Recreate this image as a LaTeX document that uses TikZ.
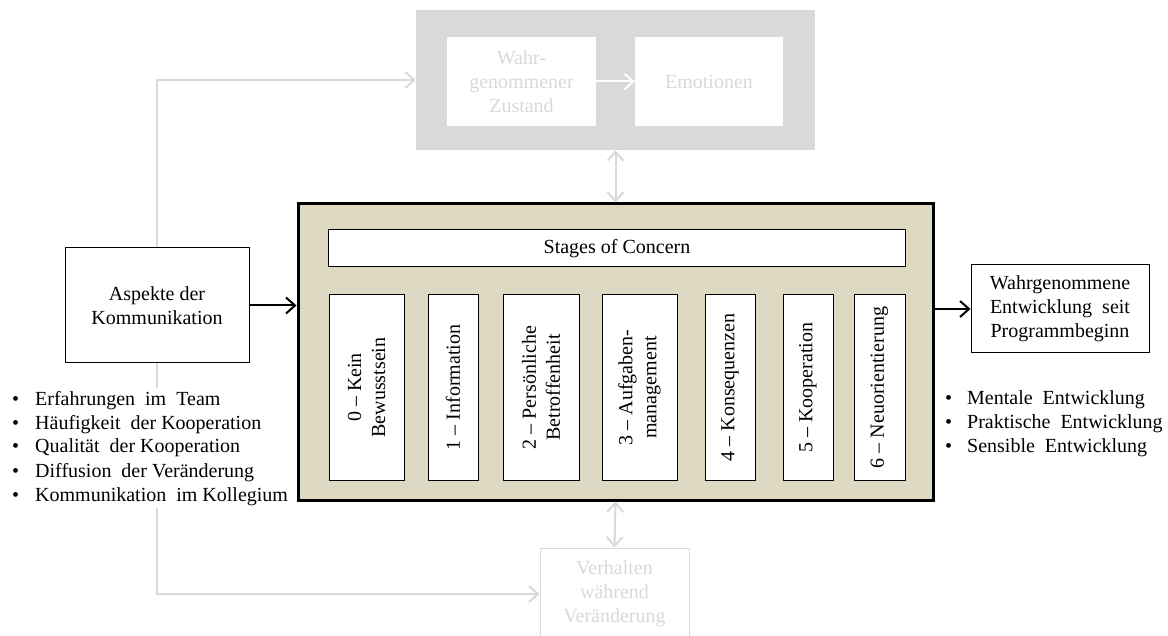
\documentclass[tikz,border=0pt]{standalone}
\usepackage{fontspec}
\setmainfont{Liberation Serif}
\usetikzlibrary{arrows.meta}
\definecolor{lightgr}{HTML}{D9D9D9}
\definecolor{mainfill}{HTML}{DDD9C3}
\begin{document}
\begin{tikzpicture}[x=1pt,y=-1pt,
  every node/.style={font={\fontsize{20}{24}\selectfont}},
  box/.style={draw=black, line width=1pt, fill=white, inner sep=0pt, align=center},
  stagebox/.style={box, rotate=90, minimum width=185pt},
  ghost/.style={fill=white, text=lightgr, inner sep=0pt, align=center},
  garrow/.style={draw=lightgr, line width=2pt, -{Straight Barb[length=9pt,width=16pt]}},
  gdarrow/.style={draw=lightgr, line width=2pt, {Straight Barb[length=9pt,width=16pt]}-{Straight Barb[length=9pt,width=16pt]}},
  barrow/.style={draw=black, line width=2pt, -{Straight Barb[length=9pt,width=16pt]}},
  bullets/.style={fill=white, inner sep=0pt, anchor=north west}
]
\useasboundingbox (0,0) rectangle (1168,636);

% top grey group
\node[fill=lightgr, minimum width=399pt, minimum height=140pt, inner sep=0pt] (top) at (615.5,80) {};
\node[ghost, minimum width=149pt, minimum height=89pt] (wahr) at (521.5,81.5) {Wahr-\\genommener\\Zustand};
\node[ghost, minimum width=148pt, minimum height=89pt] (emo) at (709,81.5) {Emotionen};
\draw[draw=white, line width=2pt, -{Straight Barb[length=9pt,width=16pt,color=white]}] (wahr) -- (emo);

% main box
\node[draw=black, line width=3pt, fill=mainfill, minimum width=635pt, minimum height=296pt, inner sep=0pt] (main) at (615.5,352) {};
\node[box, minimum width=577pt, minimum height=37pt] (soc) at (617,248.5) {Stages of Concern};
\node[stagebox, minimum height=75pt] (s0) at (366.5,387.5) {0 -- Kein\\Bewusstsein};
\node[stagebox, minimum height=50pt] (s1) at (453,387.5) {1 -- Information};
\node[stagebox, minimum height=76pt] (s2) at (541,387.5) {2 -- Persönliche\\Betroffenheit};
\node[stagebox, minimum height=75pt] (s3) at (639.5,387.5) {3 -- Aufgaben-\\management};
\node[stagebox, minimum height=50pt] (s4) at (730,387.5) {4 -- Konsequenzen};
\node[stagebox, minimum height=50pt] (s5) at (808,387.5) {5 -- Kooperation};
\node[stagebox, minimum height=51pt] (s6) at (879.5,387.5) {6 -- Neuorientierung};

% left side
\node[box, minimum width=184pt, minimum height=115pt] (asp) at (157,305.5) {Aspekte der\\Kommunikation};
% bottom ghost box
\node[draw=lightgr, line width=1pt, ghost, minimum width=149pt, minimum height=92pt] (verh) at (614.5,594) {Verhalten\\während\\Veränderung};

% grey connectors (drawn before bullet list so it covers them)
\draw[garrow] (asp.north) |- (top.west);
\draw[garrow] (asp.south) |- (verh.west);
\draw[gdarrow] (top.south) -- (main.north);
\draw[gdarrow] (main.south) -- (verh.north);

\node[bullets] (lb) at (12,388) {%
  \begin{tabular}{@{}l@{\hspace{16pt}}l@{}}
  \textbullet & Erfahrungen\ \ im\ \ Team\\
  \textbullet & Häufigkeit\ \ der Kooperation\\
  \textbullet & Qualität\ \ der Kooperation\\
  \textbullet & Diffusion\ \ der Veränderung\\
  \textbullet & Kommunikation\ \ im Kollegium
  \end{tabular}};

% right side
\node[box, minimum width=178pt, minimum height=88pt] (rbox) at (1060,309) {Wahrgenommene\\Entwicklung\ \ seit\\Programmbeginn};
\node[bullets] (rb) at (945,388) {%
  \begin{tabular}{@{}l@{\hspace{15pt}}l@{}}
  \textbullet & Mentale\ \ Entwicklung\\
  \textbullet & Praktische\ \ Entwicklung\\
  \textbullet & Sensible\ \ Entwicklung
  \end{tabular}};

% black connectors
\draw[barrow] (asp.east) -- (asp.east -| main.west);
\draw[barrow] (main.east |- rbox.west) -- (rbox.west);
\end{tikzpicture}
\end{document}
